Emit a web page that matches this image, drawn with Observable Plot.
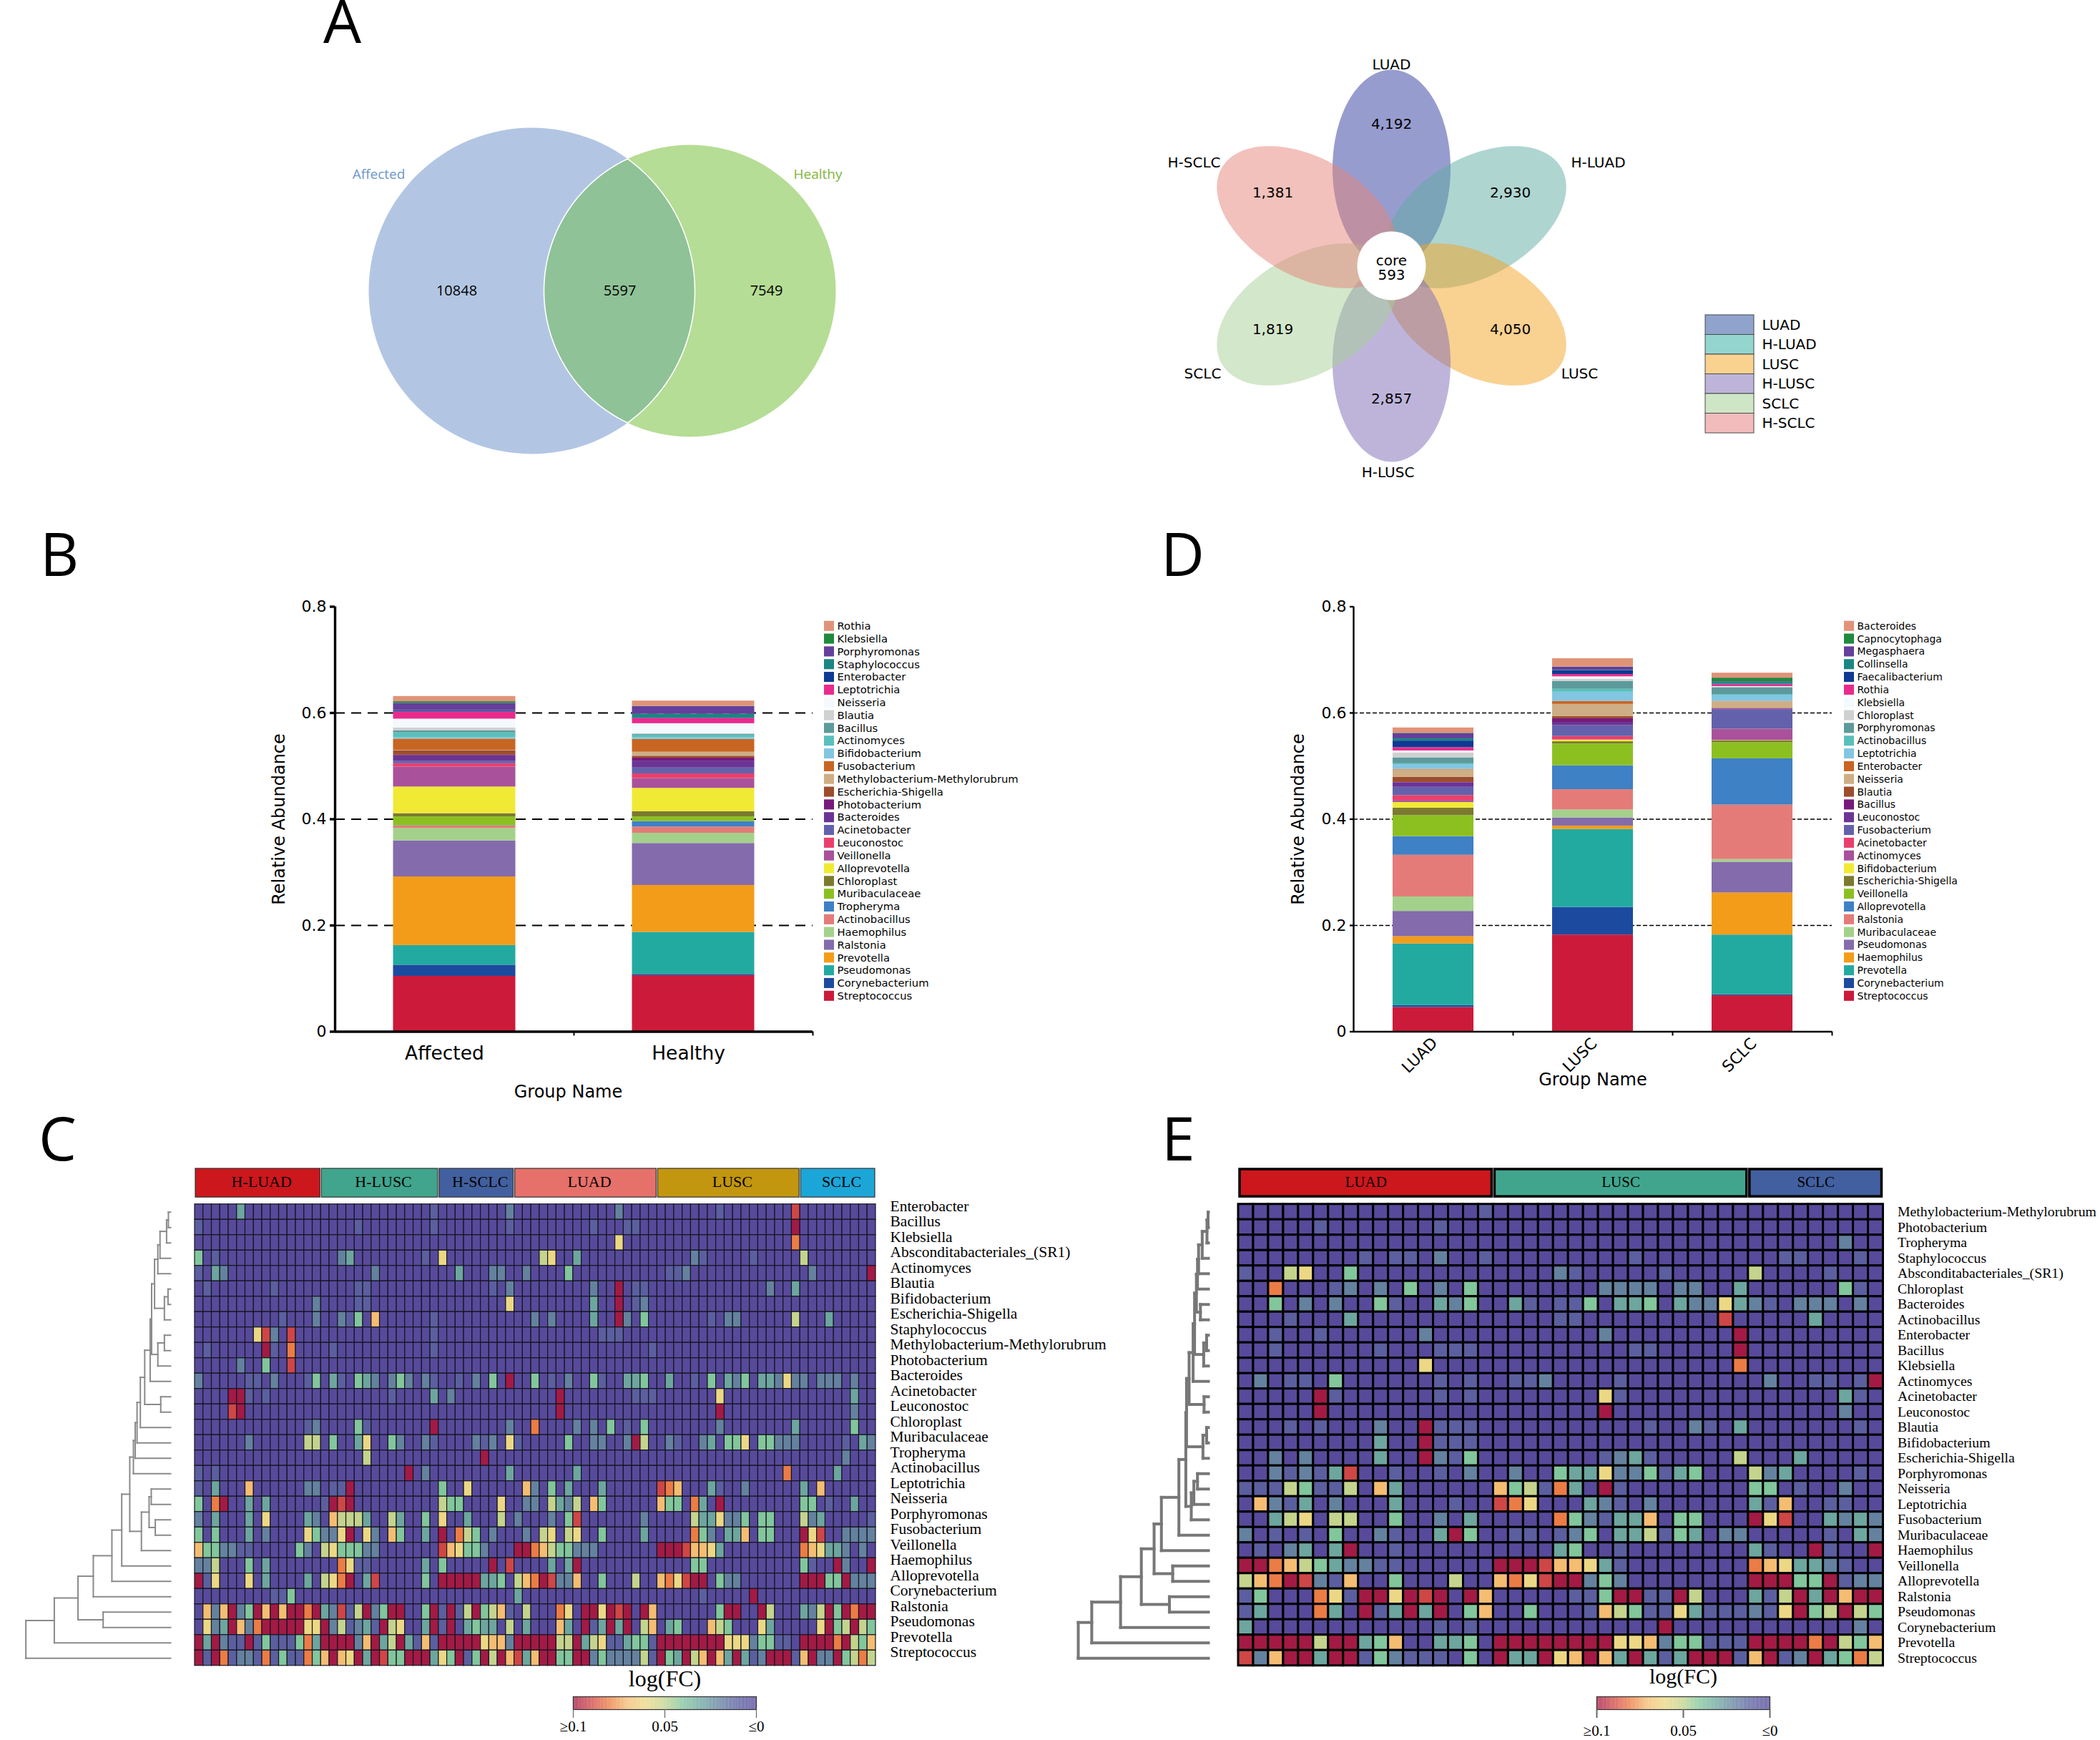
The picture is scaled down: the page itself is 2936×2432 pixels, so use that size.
<!DOCTYPE html>
<html><head><meta charset="utf-8">
<script src="https://cdn.jsdelivr.net/npm/d3@7"></script>
<script src="https://cdn.jsdelivr.net/npm/@observablehq/plot@0.6"></script>
<style>
html,body{margin:0;background:#fff}
#fig{position:relative;width:2936px;height:2432px;overflow:hidden;background:#fff}
#fig>svg{position:absolute}
.letter{position:absolute;font:84px/0.66 "Open Sans",sans-serif;color:#000}
</style></head><body><div id="fig"></div>
<script>
// ---------- Panel A ----------
const vennSets = ["Affected","Healthy"];
const vennCounts = [10848,5597,7549];
const floralSets = ["LUAD","H-LUAD","LUSC","H-LUSC","SCLC","H-SCLC"];
const floralCounts = [4192,2930,4050,2857,1819,1381];
const floralCore = 593;
const floralColors = ["#2f399d","#5faba3","#f3a323","#7d69b5","#a7cf95","#e58379"];
const floralLegendColors = ["#8fa3cc","#94d5cf","#f9d290","#beb4d9","#cfe6c6","#f2bcbc"];

// ---------- Panels B, D ----------
const groupsB = ["Affected","Healthy"];
const generaB = ["Streptococcus","Corynebacterium","Pseudomonas","Prevotella","Ralstonia","Haemophilus","Actinobacillus","Tropheryma","Muribaculaceae","Chloroplast","Alloprevotella","Veillonella","Leuconostoc","Acinetobacter","Bacteroides","Photobacterium","Escherichia-Shigella","Methylobacterium-Methylorubrum","Fusobacterium","Bifidobacterium","Actinomyces","Bacillus","Blautia","Neisseria","Leptotrichia","Enterobacter","Staphylococcus","Porphyromonas","Klebsiella","Rothia"];
const topsAffected = [.1044,.1254,.1624,.2915,.3595,.383,.3873,.388,.4046,.4107,.4608,.4985,.5046,.5096,.5195,.5207,.5293,.53,.551,.5534,.5627,.5664,.572,.5886,.6022,.604,.6047,.6183,.6214,.6312];
const topsHealthy = [.1056,.108,.1872,.2755,.3545,.3737,.3854,.3959,.4046,.4145,.4583,.4768,.4855,.4966,.5096,.5151,.5188,.5263,.5503,.5534,.5584,.5596,.5615,.58,.59,.5905,.598,.6121,.6127,.6226];
const groupsD = ["LUAD","LUSC","SCLC"];
const generaD = ["Streptococcus","Corynebacterium","Prevotella","Haemophilus","Pseudomonas","Muribaculaceae","Ralstonia","Alloprevotella","Veillonella","Escherichia-Shigella","Bifidobacterium","Actinomyces","Acinetobacter","Fusobacterium","Leuconostoc","Bacillus","Blautia","Neisseria","Enterobacter","Leptotrichia","Actinobacillus","Porphyromonas","Chloroplast","Klebsiella","Rothia","Faecalibacterium","Collinsella","Megasphaera","Capnocytophaga","Bacteroides"];
const topsLUAD = [.0457,.0494,.1655,.1791,.2267,.2539,.3323,.3675,.407,.4212,.4317,.4355,.4447,.4602,.4688,.4694,.4793,.4929,.4941,.5028,.5046,.5158,.525,.5287,.5349,.5473,.5516,.5615,.5621,.572];
const topsLUSC = [.1822,.2341,.3811,.3873,.4027,.4175,.4558,.5009,.5417,.546,.5491,.5497,.5559,.5763,.5825,.5893,.5936,.6164,.622,.6393,.6448,.6597,.6634,.6683,.6726,.68,.6807,.6862,.6868,.7023];
const topsSCLC = [.0679,.0698,.1822,.2613,.3193,.3243,.4268,.5139,.5442,.5479,.5485,.5689,.5695,.6059,.6072,.6084,.609,.6214,.622,.6337,.635,.6479,.6485,.6498,.6535,.6541,.6578,.659,.6658,.6751];
const palette = ["#cc1a3a","#1c4a9f","#22aaa1","#f39c19","#846bac","#a3d18b","#e57b78","#3e81c4","#8cc021","#7b7a2e","#f0ea34","#a9519b","#ea3f6c","#6461ac","#6b3495","#771a7c","#9d4d2d","#cfae86","#c86522","#82c6e2","#58c0bb","#5d9a9b","#cfd1d0","#f3f9fc","#e92a8c","#0e3a94","#1b8683","#643f9b","#1f8a3d","#e19379"];

// ---------- Panels C, E : log(FC) level of each non-base cell, "column:level" ----------
const taxaC = ["Enterobacter","Bacillus","Klebsiella","Absconditabacteriales_(SR1)","Actinomyces","Blautia","Bifidobacterium","Escherichia-Shigella","Staphylococcus","Methylobacterium-Methylorubrum","Photobacterium","Bacteroides","Acinetobacter","Leuconostoc","Chloroplast","Muribaculaceae","Tropheryma","Actinobacillus","Leptotrichia","Neisseria","Porphyromonas","Fusobacterium","Veillonella","Haemophilus","Alloprevotella","Corynebacterium","Ralstonia","Pseudomonas","Prevotella","Streptococcus"];
const sampleGroupsC = [["H-LUAD",15],["H-LUSC",14],["H-SCLC",9],["LUAD",17],["LUSC",17],["SCLC",9]];
const groupColorsC = ["#cc171d","#41a58d","#42609f","#e6706a","#c2960f","#1ca6d8"];
const levelsC = [
"5:3 28:1 37:2 50:2 62:1 71:9",
"0:1 19:1 28:1 37:1 47:1 51:1 52:1 71:10",
"50:6 71:8",
"0:4 2:1 17:2 18:3 27:1 29:6 41:5 42:6 45:3 59:2 60:1 66:1 72:5",
"0:1 2:3 3:2 21:2 31:3 35:2 36:2 39:2 44:4 56:1 57:1 58:2 73:2 80:10",
"1:1 9:1 19:1 20:1 35:1 37:2 47:2 50:10 52:1 53:1 68:2 71:3",
"14:2 19:1 20:1 37:6 47:3 50:10 52:1 53:2",
"10:1 14:2 17:2 18:1 19:4 21:7 28:1 40:2 42:2 47:3 50:10 51:2 53:4 61:1 63:2 64:2 71:5 75:3",
"7:6 8:9 9:2 11:9 28:1 48:1 49:1 50:1",
"1:1 8:10 9:1 11:8 16:1 28:1 54:1",
"5:2 8:4 11:9",
"0:2 6:1 7:1 9:2 13:1 14:4 16:3 17:1 19:4 20:3 21:2 23:2 24:4 25:2 27:2 28:1 31:1 33:2 35:4 37:10 40:4 42:1 44:2 47:4 48:1 51:3 52:3 53:4 56:3 59:1 61:4 63:3 64:2 65:4 67:3 68:3 69:2 70:6 71:2 72:2 74:2 75:2 76:2 78:2",
"4:10 5:10 6:1 8:1 23:1 28:3 30:2 43:10 52:1 53:1 54:1 62:6 78:3",
"4:9 5:10 43:10 62:10 78:2",
"13:1 14:2 19:4 20:1 28:10 37:2 40:8 45:2 47:2 49:4 51:1 53:4 62:2 71:3 78:4",
"6:2 13:5 14:5 16:4 19:3 20:6 23:4 24:2 27:2 28:1 33:2 34:1 35:2 37:6 38:1 44:4 47:2 48:2 51:2 52:10 53:5 56:2 57:1 60:2 61:3 63:4 64:4 65:6 67:4 68:4 69:2 70:2 71:2 77:1 79:3 80:2",
"20:5 34:10 77:2",
"0:1 2:1 25:10 27:2 37:3 45:3 70:8 76:3",
"0:1 2:3 6:7 13:2 14:2 16:1 17:1 18:10 29:4 32:6 39:7 40:2 42:4 44:3 48:3 55:9 56:8 57:7 61:3 62:1 65:2 72:3 74:7",
"0:4 2:8 3:10 6:3 8:3 15:1 16:10 17:9 18:10 29:5 30:4 31:4 36:6 39:2 40:2 42:5 43:3 44:2 45:5 47:7 48:4 55:7 56:4 57:4 59:8 60:3 62:10 72:4 73:4 75:1 78:3",
"0:2 2:3 6:3 8:6 13:3 14:2 16:7 17:5 18:5 19:5 20:3 23:5 24:3 27:4 29:6 32:3 36:5 38:2 42:2 44:4 45:9 53:2 59:5 60:3 61:3 62:6 63:2 64:2 65:4 67:4 68:4 72:5 73:2 74:3 80:1",
"0:4 2:4 6:3 8:2 13:6 14:4 15:2 16:2 17:6 18:10 20:6 21:2 23:7 24:4 27:3 29:10 31:8 32:5 33:4 35:2 39:2 41:5 42:6 44:5 45:6 48:4 53:3 59:8 60:4 61:2 63:3 64:3 65:7 67:4 68:4 72:10 73:6 74:9 77:2 78:2 79:2 80:2",
"0:7 1:4 2:4 3:2 4:2 5:1 6:1 12:4 13:2 15:5 16:6 17:4 18:4 19:4 20:2 21:2 29:9 30:7 31:6 32:4 33:4 34:2 38:10 39:10 40:8 41:7 42:5 43:4 44:4 45:2 46:2 47:2 55:10 56:10 57:10 58:9 59:7 60:7 61:6 62:3 72:8 73:7 74:6 75:3 76:3 77:2 79:2",
"0:2 1:2 2:5 6:4 8:3 17:8 18:6 19:1 20:1 27:3 29:4 35:10 37:9 42:3 44:3 45:10 59:4 60:4 72:4 73:1 76:10 77:2 80:10",
"0:10 1:1 2:6 6:6 8:3 13:3 15:5 16:6 17:8 18:10 20:3 21:9 27:4 29:10 30:10 31:10 32:10 33:10 34:3 35:3 36:4 38:5 39:7 40:8 41:10 42:9 43:2 44:2 45:7 48:4 52:5 55:7 56:8 57:6 58:9 59:10 60:10 62:4 63:2 64:2 72:10 73:10 74:10 75:4 76:4 77:10 78:2 79:2 80:2",
"9:1 10:1 11:4 38:3 60:1 66:10",
"1:7 2:2 3:7 4:10 5:2 6:4 7:10 8:7 9:10 10:7 11:10 12:10 13:8 14:10 15:3 16:2 17:9 18:1 19:5 20:10 21:2 22:4 23:10 24:10 27:4 28:10 29:1 30:10 31:1 32:5 33:10 34:4 35:5 36:7 37:1 39:5 43:8 44:6 46:10 47:10 48:6 49:10 50:9 51:10 53:10 54:7 62:4 63:10 64:10 67:10 68:5 72:3 73:2 74:5 75:10 76:4 77:10 78:8 79:10 80:10",
"1:6 2:2 3:3 4:10 5:7 6:2 7:8 8:10 9:10 10:10 11:10 12:10 13:6 14:6 15:10 16:2 17:5 18:1 19:2 20:3 21:1 22:10 23:5 24:6 27:3 28:10 29:1 30:10 32:3 33:4 34:3 35:3 37:5 39:3 43:7 44:3 46:10 47:1 48:3 49:10 50:3 51:10 53:5 54:7 56:3 57:4 61:7 62:5 63:4 67:6 68:3 74:6 75:10 76:4 77:5 78:10 79:5 80:4",
"0:10 1:3 2:10 3:2 4:1 5:1 6:10 7:1 8:4 9:1 10:1 11:1 12:4 13:8 14:3 15:10 16:10 17:10 18:10 19:2 20:7 21:10 22:3 23:5 24:10 25:3 26:1 27:7 28:1 29:10 30:10 31:10 32:10 33:10 34:6 35:7 36:7 37:2 38:10 39:10 40:10 41:10 42:10 43:5 44:5 45:10 46:3 47:5 48:6 49:1 50:1 51:3 52:4 53:4 54:1 55:10 56:10 57:10 58:10 59:10 60:10 61:10 62:10 63:6 64:6 65:6 66:2 67:4 68:4 69:1 70:1 72:10 73:10 74:10 75:10 76:8 77:10 78:5 79:4 80:7",
"0:10 1:1 2:10 3:8 4:1 5:2 6:2 7:1 8:8 9:1 10:4 11:1 12:1 13:8 14:4 15:7 16:10 17:7 18:6 19:10 20:3 21:10 22:9 23:4 24:4 25:10 26:10 27:10 28:3 29:6 30:4 31:10 32:1 33:4 34:10 35:5 36:10 37:7 38:9 39:3 40:7 41:10 42:10 43:4 44:4 45:10 46:10 47:2 48:4 49:2 50:2 51:2 52:2 53:5 54:1 55:10 56:4 57:3 58:10 59:5 60:7 61:10 62:7 63:3 64:10 65:3 66:1 67:2 68:10 69:10 70:10 71:1 72:7 73:10 74:2 75:2 76:10 77:4 78:5 79:8 80:5"
];
const taxaE = ["Methylobacterium-Methylorubrum","Photobacterium","Tropheryma","Staphylococcus","Absconditabacteriales_(SR1)","Chloroplast","Bacteroides","Actinobacillus","Enterobacter","Bacillus","Klebsiella","Actinomyces","Acinetobacter","Leuconostoc","Blautia","Bifidobacterium","Escherichia-Shigella","Porphyromonas","Neisseria","Leptotrichia","Fusobacterium","Muribaculaceae","Haemophilus","Veillonella","Alloprevotella","Ralstonia","Pseudomonas","Corynebacterium","Prevotella","Streptococcus"];
const sampleGroupsE = [["LUAD",17],["LUSC",17],["SCLC",9]];
const groupColorsE = ["#cc171d","#41a58d","#42609f"];
const levelsE = [
"16:1",
"13:1 5:1",
"40:2",
"8:1 10:1 11:1 13:2 16:1 26:1 36:1 37:1 41:1",
"0:1 3:5 4:6 7:4 21:2 22:1 28:1 34:5 39:1",
"2:8 6:1 7:2 9:2 11:4 13:2 15:4 24:2 25:2 26:2 27:2 29:2 30:2 33:3 40:4 41:1",
"2:4 4:2 6:2 9:4 10:1 13:3 14:2 15:4 18:3 19:1 21:1 22:1 23:4 25:3 26:3 27:4 29:3 30:2 31:2 32:6 33:3 34:2 35:1 37:2 38:2 39:2 41:2",
"3:1 7:3 21:1 22:1 32:9 38:3",
"2:1 5:1 12:2 24:2 33:10",
"2:1 9:1 13:1 14:1 15:1 26:1 27:1 33:10",
"12:6 33:8",
"1:2 3:1 4:1 6:4 13:1 15:1 18:1 19:1 20:2 25:1 35:2 38:1 39:1 41:1 42:10",
"5:10 6:1 13:1 15:1 24:6 25:1 40:3 41:1",
"5:10 24:10 40:2",
"3:1 5:1 9:2 12:10 13:1 14:1 15:1 27:1 30:2 31:1 33:3 41:1",
"9:3 12:10 13:1 14:1 15:1",
"2:2 4:2 9:3 12:10 13:2 14:1 15:4 24:1 25:2 26:3 27:1 33:5 37:3",
"2:2 3:1 4:2 5:1 6:3 7:9 10:1 13:1 15:2 18:2 21:4 22:3 23:3 24:6 25:2 26:2 27:4 28:1 29:3 30:4 34:5 35:2 36:3 41:1",
"0:1 1:1 2:1 3:5 4:4 5:1 6:1 7:5 9:7 10:3 17:7 18:4 19:5 20:1 21:8 22:3 24:10 25:1 34:4 35:4 37:1 40:2",
"1:7 2:2 3:1 4:3 6:2 10:3 14:1 17:9 18:8 19:6 23:3 24:2 25:1 27:2 34:3 35:1 36:7 39:1 40:1",
"2:3 3:5 4:6 6:5 7:5 10:4 13:2 15:3 21:8 22:4 23:2 24:1 25:3 26:3 27:7 29:4 30:4 34:10 35:6 36:9 39:3 40:2 41:3 42:2",
"0:2 2:1 4:1 6:4 9:2 10:1 13:3 14:10 15:4 18:1 19:1 21:1 22:2 23:4 25:3 26:3 27:5 28:1 29:4 30:3 32:2 33:2 39:1 41:3 42:2",
"1:1 3:2 4:3 6:3 7:10 10:1 21:3 22:4 25:1 34:3 35:1 38:10 39:1 42:10",
"0:10 1:10 2:8 3:7 4:5 5:4 6:3 7:2 8:2 9:1 10:1 17:10 18:10 19:10 20:9 21:7 22:7 23:6 24:3 25:1 34:8 35:7 36:6 37:3 38:3 39:2 40:1",
"0:5 1:7 2:8 3:10 4:9 5:2 6:1 7:7 10:4 14:5 17:7 18:8 19:6 20:9 21:10 22:10 23:2 24:4 25:2 34:10 35:10 36:10 37:4 38:4 39:10 40:1 41:2 42:2",
"0:1 1:4 5:8 6:6 7:1 8:10 9:10 10:6 11:10 12:9 13:10 15:10 16:7 22:1 23:1 24:4 25:10 26:10 27:1 28:1 29:10 30:5 34:3 35:1 36:5 37:10 38:3 39:10 40:7 41:10 42:10",
"0:1 1:3 5:8 6:3 8:10 9:1 10:3 11:10 12:3 13:10 15:4 16:7 19:4 23:1 24:7 25:5 26:4 27:1 28:1 29:6 30:3 31:1 32:1 33:1 34:2 35:1 36:6 37:10 38:4 39:5 40:10 41:5 42:4",
"0:3 13:1 15:1 28:10 41:2",
"0:10 1:10 2:10 3:10 4:10 5:5 6:10 7:10 8:3 9:4 10:7 13:3 14:3 15:4 17:10 18:10 19:10 20:10 21:10 22:10 23:10 24:10 25:6 26:6 27:7 28:2 29:4 30:4 31:1 32:1 33:1 34:10 35:10 36:10 37:10 38:8 39:10 40:5 41:4 42:7",
"0:9 1:2 2:7 3:10 4:10 5:3 6:10 7:10 8:1 9:4 10:2 11:1 12:1 13:1 15:4 17:10 18:3 19:3 20:10 21:6 22:7 23:10 24:7 25:3 26:10 27:3 28:1 29:3 30:10 31:10 32:10 33:1 34:7 35:10 36:1 37:2 38:10 39:3 40:4 41:8 42:5"
];
// colour of levels 0..10 (log FC 0 .. 0.1)
const heatColors = ["#574a9b","#5b5f9f","#64829f","#6da69f","#82c69c","#c4d48d","#ecd884","#f4bd72","#ec7c45","#cf4646","#a31a45"];
// dendrograms: [merge height, left, right]; leaves are row numbers
const dendroC = (()=>{
  const n1=[456,[461,0,1],2], n3=[432,[438,n1,3],4], m1=[450,[460,5,6],7];
  const n4=[423,n3,m1], p1=[432,[450,8,9],10], n6=[411,[415,n4,p1],11];
  const n7=[396,n6,[440,12,13]], n11=[365,[370,[375,[384,n7,14],15],16],17];
  const r2=[387,[408,[414,18,19],[425,20,21]],22];
  const n15=[255,[306,[333,[355,n11,r2],23],24],25];
  return [70,[148,[213,n15,[282,26,27]],28],29];
})();
const dendroE = (()=>{
  const c=[393,[406,[409,0,1],2],3], e=[380,[383,c,4],5], g=[377,e,[388,6,7]];
  const i=[372,g,[397,[405,8,9],10]], l=[357,[368,i,11],[398,12,13]];
  const n=[350,l,[395,[405,14,15],16]], u=[363,[370,[380,17,18],19],20];
  const n4=[281,[329,[348,n,u],21],22], n5=[261,n4,[312,23,24]];
  return [53,[90,[169,[226,n5,[303,25,26]],27],28],29];
})();

// ---------- helpers ----------
const fig = document.getElementById("fig");
function place(svg,left,top){svg.style.left=left+"px";svg.style.top=top+"px";svg.style.overflow="visible";svg.style.maxWidth="none";fig.appendChild(svg);}
function letter(t,left,baseline){const s=document.createElement("span");s.className="letter";s.textContent=t;s.style.left=left+"px";s.style.top=(baseline-60)+"px";fig.appendChild(s);}
const pixelPlot=(w,h,marks,extra={})=>Plot.plot({width:w,height:h,margin:0,x:{domain:[0,w],range:[0,w],axis:null},y:{domain:[0,h],range:[0,h],axis:null},marks,...extra});

// ---------- Panel A, Venn ----------
{
  const r1=228,r2=204,c1=[243,206],c2=[464,206]; // panel pixels
  const d=c2[0]-c1[0], a=(d*d+r1*r1-r2*r2)/(2*d), yy=Math.sqrt(r1*r1-a*a);
  const lens=[];
  const a1=Math.atan2(yy,a), a2=Math.atan2(yy,d-a);
  for(const t of d3.range(-a1,a1+1e-6,a1/60)) lens.push({x:c1[0]+r1*Math.cos(t),y:c1[1]+r1*Math.sin(t)});
  for(const t of d3.range(a2,-a2-1e-6,-a2/60)) lens.push({x:c2[0]-r2*Math.cos(t),y:c2[1]+r2*Math.sin(t)});
  place(pixelPlot(800,480,[
    Plot.dot([0],{x:()=>c1[0],y:()=>c1[1],r:r1,fill:"#b2c6e3",stroke:"none"}),
    Plot.dot([0],{x:()=>c2[0],y:()=>c2[1],r:r2,fill:"#b5dd95",stroke:"none"}),
    Plot.line(lens,{x:"x",y:"y",fill:"#8fc297",stroke:"#fff",strokeWidth:1.6,curve:"linear-closed"}),
    Plot.text(vennCounts,{x:(_,i)=>[138,366,571][i],y:()=>c1[1],text:d=>String(d),fontSize:20,fontFamily:"Open Sans",fill:"#000"}),
    Plot.text(vennSets,{x:(_,i)=>[29,643][i],y:()=>43,text:d=>d,fontSize:19,fontFamily:"Open Sans",fill:(_,i)=>["#6d96c9","#82b43c"][i]})
  ],{color:{type:"identity"}}),500,200);
}

// ---------- Panel A, flower ----------
{
  const cx=345,cy=311,a=138,b=82.5,off=136;
  const angle=i=>i*Math.PI/3;
  const petal=i=>d3.range(0,2*Math.PI,.04).map(t=>{
    const u=b*Math.cos(t),v=-off+a*Math.sin(t),th=angle(i);
    return {x:cx+u*Math.cos(th)-v*Math.sin(th),y:cy+u*Math.sin(th)+v*Math.cos(th)};
  });
  const valueAt=[[345,113],[511,209],[511,400],[345,497],[179,400],[179,209]];
  const nameAt=[[345,30],[634,167],[608,462],[340,600],[81,462],[69,167]];
  place(pixelPlot(760,660,[
    ...floralSets.map((s,i)=>Plot.line(petal(i),{x:"x",y:"y",fill:floralColors[i],fillOpacity:.5,stroke:"none",curve:"linear-closed"})),
    Plot.dot([0],{x:()=>cx,y:()=>cy,r:48,fill:"#fff",stroke:"none"}),
    Plot.text(floralCounts,{x:(_,i)=>valueAt[i][0],y:(_,i)=>valueAt[i][1],text:d=>d3.format(",")(d),fontSize:20,fontFamily:"DejaVu Sans"}),
    Plot.text(floralSets,{x:(_,i)=>nameAt[i][0],y:(_,i)=>nameAt[i][1],text:d=>d,fontSize:20,fontFamily:"DejaVu Sans"}),
    Plot.text(["core\n"+floralCore],{x:()=>cx,y:()=>cy+3,text:d=>d,fontSize:20,lineHeight:1.0,fontFamily:"DejaVu Sans"})
  ]),1600,60);
  place(Plot.plot({width:190,height:165,margin:0,marginRight:122,x:{type:"band",domain:[0],axis:null,padding:0,round:false},y:{domain:floralSets,axis:null,padding:0,round:false},
    color:{type:"identity"},
    marks:[
      Plot.cell(floralSets,{y:d=>d,x:()=>0,fill:(_,i)=>floralLegendColors[i],stroke:"#4a4a4a",strokeWidth:1}),
      Plot.text(floralSets,{y:d=>d,frameAnchor:"right",dx:11,textAnchor:"start",text:d=>d,fontSize:20,fontFamily:"DejaVu Sans"})
    ]}),2384,440);
}

// ---------- stacked bars ----------
function stacked(groups,series,genera,o){
  const rows=[];
  series.forEach((tops,g)=>tops.forEach((t,i)=>rows.push({g,genus:genera[i],y1:i?tops[i-1]:0,y2:t})));
  const half=o.barShare/2;
  return Plot.plot({width:o.ml+o.w+o.mr,height:o.mt+o.h+o.mb,marginLeft:o.ml,marginRight:o.mr,marginTop:o.mt,marginBottom:o.mb,
    style:{fontFamily:"DejaVu Sans",color:"#000"},
    x:{domain:[0,groups.length],axis:null},y:{domain:[0,.8],axis:null},
    color:{domain:genera,range:palette},
    marks:[
      Plot.ruleY([.2,.4,.6],{stroke:"#000",strokeWidth:o.dashW,strokeDasharray:o.dash}),
      Plot.rect(rows,{x1:d=>d.g+.5-half,x2:d=>d.g+.5+half,y1:"y1",y2:"y2",fill:"genus"}),
      Plot.ruleX([0],{strokeWidth:o.axisW,stroke:"#000"}),
      Plot.ruleY([0],{strokeWidth:o.axisW,stroke:"#000"}),
      Plot.axisX({ticks:d3.range(1,groups.length+1),tickSize:6,tickFormat:()=>"",strokeWidth:2,stroke:"#000"}),
      Plot.axisY({ticks:[0,.2,.4,.6,.8],tickFormat:d=>d===0?"0":d3.format(".1f")(d),tickSize:o.tickSize,tickPadding:o.tickPad,fontSize:22,strokeWidth:o.axisW,stroke:"#000",fill:"#000"}),
      ...groups.map((g,i)=>Plot.text([g],{x:()=>i+.5,y:()=>0,text:d=>d,fontSize:o.xFont,dx:o.xDx[i],dy:o.xDy,rotate:o.xRotate,lineAnchor:o.xRotate?"middle":"bottom",fill:"#000"})),
      Plot.text(["Group Name"],{frameAnchor:"bottom",dx:o.titleDx,dy:o.titleDy,lineAnchor:"bottom",text:d=>d,fontSize:24,fill:"#000"}),
      Plot.text(["Relative Abundance"],{frameAnchor:"left",rotate:-90,dx:o.yTitleDx,textAnchor:"middle",text:d=>d,fontSize:24,fill:"#000"})
    ]});
}
function generaLegend(genera,font){
  const names=genera.slice().reverse(), cols=palette.slice().reverse();
  return Plot.plot({width:340,height:538.6,margin:0,marginRight:326,
    x:{type:"band",domain:[0],axis:null,padding:0,round:false},y:{domain:names,axis:null,padding:.21,round:false},color:{type:"identity"},
    marks:[
      Plot.cell(names,{x:()=>0,y:d=>d,fill:(_,i)=>cols[i]}),
      Plot.text(names,{frameAnchor:"right",y:d=>d,dx:4,textAnchor:"start",text:d=>d,fontSize:font,fontFamily:"DejaVu Sans",fill:"#000"})
    ]});
}
place(stacked(groupsB,[topsAffected,topsHealthy],generaB,{ml:128,mr:20,mt:27.5,mb:100,w:668,h:594,barShare:.512,dashW:2,dash:"14 9",axisW:3.4,tickSize:7,tickPad:5,xFont:26.5,xDx:[-14,-7],xDy:39,titleDx:-8,titleDy:91.6,yTitleDx:-78}),340,820);
place(generaLegend(generaB,14.8),1152,864);
place(stacked(groupsD,[topsLUAD,topsLUSC,topsSCLC],generaD,{ml:112,mr:20,mt:27.5,mb:100,w:669,h:594,barShare:.507,dashW:1.4,dash:"6 3",axisW:2.4,tickSize:5,tickPad:5,xFont:22,xDx:[-19,-18,-18],xDy:33,xRotate:-45,titleDx:0,titleDy:75,yTitleDx:-77}),1780,820);
place(generaLegend(generaD,14),2578,864);

// ---------- heat maps ----------
function parseLevels(rows){
  return rows.map(s=>{const o={};s.split(" ").forEach(p=>{const [c,l]=p.split(":");o[+c]=+l;});return o;});
}
function heat(taxa,levels,groups,groupCols,o){
  const nc=d3.sum(groups,g=>g[1]), lv=parseLevels(levels), cells=[];
  taxa.forEach((t,r)=>{for(let c=0;c<nc;c++)cells.push({r,c,fc:(lv[r][c]||0)/100});});
  let s=0; const gr=groups.map(([name,n],i)=>{const q={name,a:s,b:s+n,col:groupCols[i]};s+=n;return q;});
  return Plot.plot({width:o.w+o.mr,height:(30+2.5)*o.rh,margin:0,marginRight:o.mr,
    style:{fontFamily:"Liberation Serif",color:"#000"},
    x:{domain:[0,nc],axis:null},y:{domain:[-2.5,30],axis:null,reverse:true},
    color:{type:"linear",domain:d3.range(11).map(l=>l/100),range:heatColors},
    marks:[
      Plot.rect(gr,{x1:"a",x2:"b",y1:()=>-2.36,y2:()=>-.4,fill:"col",stroke:o.gStroke,strokeWidth:o.gWidth,inset:o.gInset}),
      Plot.text(gr,{x:d=>(d.a+d.b)/2,y:()=>-1.45,dx:o.gDx,text:"name",fontSize:o.gFont,fill:"#000"}),
      Plot.rect(cells,{x1:"c",x2:d=>d.c+1,y1:"r",y2:d=>d.r+1,fill:"fc",stroke:o.stroke,strokeWidth:o.sw}),
      Plot.text(taxa,{frameAnchor:"right",y:(_,i)=>i+.5,dx:o.labelDx,dy:o.labelDy,textAnchor:"start",text:d=>d,fontSize:o.font,fill:"#000"})
    ]});
}
function dendro(tree,leafH,w,rh,color,sw){
  const segs=[];
  (function walk(n){
    if(typeof n==="number") return {h:leafH,y:n+.5};
    const a=walk(n[1]),b=walk(n[2]),h=n[0];
    segs.push({x1:h,x2:a.h,y1:a.y,y2:a.y},{x1:h,x2:b.h,y1:b.y,y2:b.y},{x1:h,x2:h,y1:a.y,y2:b.y});
    return {h,y:(a.y+b.y)/2};
  })(tree);
  return Plot.plot({width:w,height:30*rh,margin:0,x:{domain:[0,leafH],axis:null},y:{domain:[0,30],axis:null,reverse:true},
    marks:[Plot.link(segs,{x1:"x1",x2:"x2",y1:"y1",y2:"y2",stroke:color,strokeWidth:sw,strokeLinecap:"square"})]});
}
function colorbar(o){
  const slices=d3.range(0,100).map(i=>i/1000);
  return Plot.plot({width:o.w+120,height:50+18+50,marginTop:50,marginBottom:50,marginLeft:60,marginRight:60,
    style:{fontFamily:"Liberation Serif",color:"#000"},
    x:{domain:[.1,0],axis:null},
    color:{type:"linear",domain:d3.range(11).map(l=>l/100),range:heatColors},
    marks:[
      Plot.rect(slices,{x1:d=>d,x2:d=>d+.00105,fill:d=>d,fillOpacity:.78}),
      Plot.frame({stroke:"#333",strokeWidth:1.2}),
      Plot.axisX({ticks:[.1,.05,0],tickFormat:d=>d===.1?"≥0.1":d===0?"≤0":"0.05",tickSize:12,tickPadding:o.pad,fontSize:21,stroke:"#666",strokeWidth:o.tw,fill:"#000"}),
      Plot.text(["log(FC)"],{frameAnchor:"top",dy:o.dy,lineAnchor:"bottom",text:d=>d,fontSize:o.font,fill:"#000"})
    ]});
}
place(dendro(dendroC,467,238,21.5,"#8a8a8a",2),0,1683);
place(heat(taxaC,levelsC,sampleGroupsC,groupColorsC,{w:952,mr:340,rh:21.5,stroke:"#15151f",sw:1.2,gStroke:"#333",gWidth:1.2,gInset:1,gDx:5,gFont:22,font:21.5,labelDx:20,labelDy:-8}),272,1629.25);
place(colorbar({w:256,pad:4,tw:1.2,dy:-15,font:32}),741,2321);
place(dendro(dendroE,410,209,21.5,"#777",4),1480,1683);
place(heat(taxaE,levelsE,sampleGroupsE,groupColorsE,{w:901.5,mr:284,rh:21.5,stroke:"#000",sw:3,gStroke:"#000",gWidth:3.5,gInset:2,gDx:0,gFont:21,font:19.8,labelDx:20,labelDy:0}),1730.5,1629.25);
place(colorbar({w:242,pad:10,tw:2,dy:-19,font:30}),2172,2321);

letter("A",452,60);letter("B",56,805);letter("C",54,1622);letter("D",1623,805);letter("E",1624,1622);
</script></body></html>
